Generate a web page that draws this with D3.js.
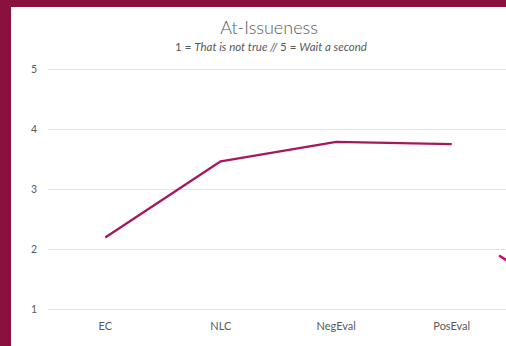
<!DOCTYPE html>
<html>
<head>
<meta charset="utf-8">
<script src="https://cdn.jsdelivr.net/npm/d3@7"></script>
<style>
  body { margin: 0; background: #8a1040; overflow: hidden; }
  text { font-family: Lato, 'Open Sans', sans-serif; }
</style>
</head>
<body>
<script>
// chart data
const categories = ['EC', 'NLC', 'NegEval', 'PosEval']
const values = [2.2, 3.47, 3.795, 3.755]
const yTicks = [1, 2, 3, 4, 5]
// stray line from the neighbouring chart, in category / value units
const strayPts = [[3.41, 1.9], [3.55, 1.72]]

const width = 506, height = 346
const svg = d3.select('body').append('svg')
    .attr('width', width)
    .attr('height', height)

// white slide area
svg.append('rect')
    .attr('x', 11).attr('y', 7)
    .attr('width', width - 11).attr('height', height - 7)
    .attr('fill', '#fff')

const x = d3.scaleBand().domain(categories).range([47.5, 509.5])
const xi = d3.scaleLinear().domain([0, 3]).range([x('EC') + x.bandwidth() / 2, x('PosEval') + x.bandwidth() / 2])
const y = d3.scaleLinear().domain([1, 5]).range([309.5, 69.5])

// gridlines
svg.append('g')
  .selectAll('line')
  .data(yTicks)
  .enter().append('line')
    .attr('x1', 47.5).attr('x2', width)
    .attr('y1', d => y(d)).attr('y2', d => y(d))
    .attr('stroke', '#e3e3e3')
    .attr('stroke-width', 1)

const yAxis = d3.axisLeft(y).tickValues(yTicks).tickFormat(d3.format('d')).tickSize(0).tickPadding(0)
svg.append('g')
    .attr('transform', 'translate(37,0)')
    .call(yAxis)
    .call(g => g.select('.domain').remove())
    .selectAll('text')
      .attr('fill', '#595959')
      .style('font-size', '10.5px')

const xAxis = d3.axisBottom(x).tickSize(0).tickPadding(0)
svg.append('g')
    .attr('transform', 'translate(0,322)')
    .call(xAxis)
    .call(g => g.select('.domain').remove())
    .selectAll('text')
      .attr('fill', '#595959')
      .style('font-size', '11px')

// series line
svg.append('path')
    .datum(values)
    .attr('fill', 'none')
    .attr('stroke', '#a6185c')
    .attr('stroke-width', 2.25)
    .attr('stroke-linejoin', 'round')
    .attr('d', d3.line()
        .x((d, i) => x(categories[i]) + x.bandwidth() / 2)
        .y(d => y(d)))

svg.append('path')
    .datum(strayPts)
    .attr('fill', 'none')
    .attr('stroke', '#d4046e')
    .attr('stroke-width', 2.5)
    .attr('d', d3.line().x(d => xi(d[0])).y(d => y(d[1])))

// titles
svg.append('text')
    .attr('x', 269).attr('y', 34)
    .attr('text-anchor', 'middle')
    .attr('fill', '#595959')
    .style('font-size', '18px')
    .style('font-weight', 300)
    .text('At-Issueness')

const sub = svg.append('text')
    .attr('x', 271).attr('y', 51)
    .attr('text-anchor', 'middle')
    .attr('fill', '#595959')
    .style('font-size', '11.5px')
sub.append('tspan').text('1 = ')
sub.append('tspan').style('font-style', 'italic').text('That is not true // ')
sub.append('tspan').text('5 = ')
sub.append('tspan').style('font-style', 'italic').text('Wait a second')
</script>
</body>
</html>
